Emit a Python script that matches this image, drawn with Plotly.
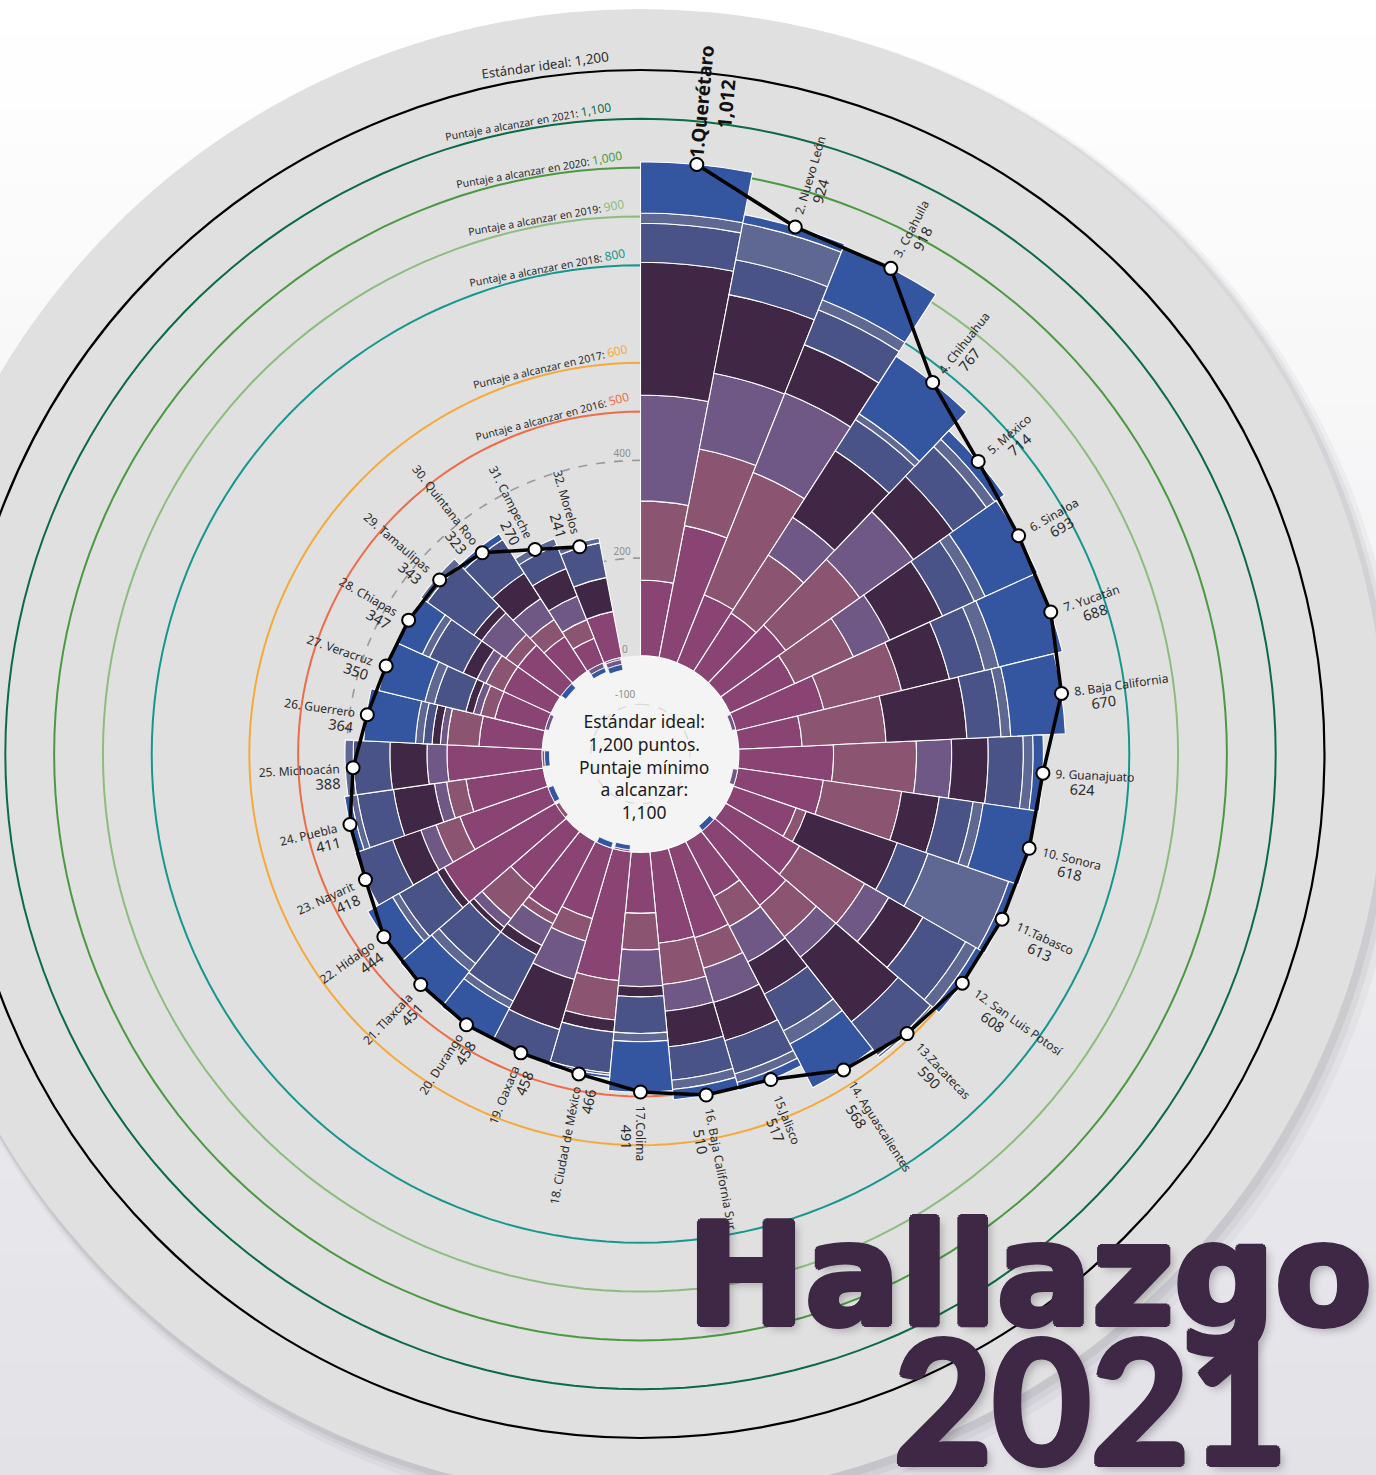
import math
import plotly.graph_objects as go

# ---------------- geometry of the page ----------------
W, H = 1376, 1475
CX, CY = 640.5, 754.0          # centre of the radial chart (px)
K = 0.488                      # px per point on the radial scale
V0 = 201.6                     # value offset: radius 0 sits at value -V0
R_POLAR = 640.0                # radius of the polar subplot (px)
V_MAX = R_POLAR / K - V0
DISK_R = 745.0

# ---------------- data ----------------
states = ["1.Querétaro", "2. Nuevo León", "3. Coahuila", "4. Chihuahua", "5. México",
          "6. Sinaloa", "7. Yucatán", "8. Baja California", "9. Guanajuato", "10. Sonora",
          "11.Tabasco", "12. San Luis Potosí", "13.Zacatecas", "14. Aguascalientes",
          "15.Jalisco", "16. Baja California Sur", "17.Colima", "18. Ciudad de México",
          "19. Oaxaca", "20. Durango", "21. Tlaxcala", "22. Hidalgo", "23. Nayarit",
          "24. Puebla", "25. Michoacán", "26. Guerrero", "27. Veracruz", "28. Chiapas",
          "29. Tamaulipas", "30. Quintana Roo", "31. Campeche", "32. Morelos"]
totals = [1012, 924, 918, 767, 714, 693, 688, 670, 624, 618, 613, 608, 590, 568, 517, 510,
          491, 466, 458, 458, 451, 444, 418, 411, 388, 364, 350, 347, 343, 323, 270, 241]
total_labels = ["1,012", "924", "918", "767", "714", "693", "688", "670", "624", "618", "613",
                "608", "590", "568", "517", "510", "491", "466", "458", "458", "451", "444",
                "418", "411", "388", "364", "350", "347", "343", "323", "270", "241"]

seg_magenta = [155, 275, 150, 142, 164, 146, 185, 130, 194, 177, 136, 175, 193, 127, 191, 188,
               125, 265, 150, 170, 150, 263, 190, 160, 195, 130, 106, 107, 107, 85, 54, 96]
seg_rose = [162, 160, 270, 141, 186, 132, 164, 172, 170, 162, 22, 154, 82, 69, 65, 85,
            75, 81, 48, 20, 78, 0, 52, 40, 0, 65, 30, 40, 30, 41, 41, 0]
seg_purple = [217, 158, 175, 92, 135, 82, 0, 0, 72, 0, 0, 57, 53, 82, 73, 55,
              75, 0, 82, 50, 22, 0, 33, 25, 41, 14, 15, 20, 61, 51, 52, 0]
seg_dark = [272, 164, 107, 162, 100, 119, 101, 166, 75, 78, 197, 81, 169, 74, 82, 73,
            21, 25, 107, 22, 12, 17, 61, 85, 76, 17, 16, 31, 20, 62, 61, 71]
seg_navy = [80, 73, 77, 76, 84, 72, 74, 70, 72, 70, 67, 101, 88, 85, 71, 69,
            75, 84, 71, 106, 83, 90, 82, 75, 75, 18, 66, 76, 117, 82, 51, 72]
seg_slate = [21, 76, 22, 14, 21, 24, 30, 20, 20, 21, 175, 24, 5, 30, 18, 19,
             17, 5, 0, 16, 20, 15, 0, 13, 17, 16, 20, 16, 16, 0, 15, 10]
seg_blue = [105, 18, 117, 140, 24, 118, 134, 112, 21, 110, 16, 16, 0, 101, 17, 21,
            103, 6, 0, 74, 86, 59, 0, 13, 0, 106, 97, 57, 0, 14, 0, 0]

neg_rose = [0, 0, 0, 0, 0, 0, 0, 0, 0, 0, 0, 0, 0, 0, 0, 0,
            0, 4, 0, 0, 0, 8, 0, 0, 5, 0, 0, 0, 0, 0, 0, 4]
neg_purple = [0, 0, 0, 0, 0, 0, 8, 0, 0, 10, 0, 0, 0, 0, 0, 0,
              0, 0, 0, 0, 0, 0, 0, 0, 0, 0, 8, 0, 0, 0, 10, 10]
neg_blue = [0, 0, 0, 0, 0, 0, 0, 0, 0, 0, 0, 0, 12, 0, 0, 0,
            0, 10, 12, 0, 0, 0, 12, 0, 10, 0, 0, 0, 12, 0, 10, 12]

ring_values = [1100, 1000, 900, 800, 600, 500]
ring_years = ["2021", "2020", "2019", "2018", "2017", "2016"]
ring_texts = ["1,100", "1,000", "900", "800", "600", "500"]
ring_colors = ["#0b6b45", "#4b9a42", "#8cbd7e", "#16978d", "#f5a93b", "#ee6c47"]
ring_end_angles = [-2.6, -1.7, -1.7, -1.7, -1.8, -1.8]
ideal_value = 1200
grid_values = [400, 200]
grid_inner = -100
grid_label_values = [400, 200, 0, -100]
grid_label_text = ["400", "200", "0", "-100"]

SEG_COLORS = ["#8a4474", "#8b5470", "#6f5886", "#3f2745", "#4a5387", "#5e6893", "#3455a0"]
TXT = "#2b2b2b"
FONT = "Noto Sans"
TITLE_C = "#3e2846"

N_SLOTS = 33
STEP = 360.0 / N_SLOTS
thetas = [(i + 0.5) * STEP for i in range(len(states))]


def px(v):
    return K * (v + V0)


def to_xy(theta_deg, r_px):
    t = math.radians(theta_deg)
    return CX + r_px * math.sin(t), CY - r_px * math.cos(t)


def paper(X, Y):
    return X / W, 1 - Y / H


def text_w(s, size, bold=False):
    w = 0.0
    for ch in s:
        if ch.isdigit():
            e = 0.572
        elif ch in " \u00a0":
            e = 0.26
        elif ch in ".,:;":
            e = 0.27
        elif ch in "iljíI":
            e = 0.26
        elif ch in "ftr":
            e = 0.37
        elif ch in "mM":
            e = 0.88
        elif ch in "wW":
            e = 0.78
        elif ch.isupper():
            e = 0.66
        else:
            e = 0.56
        w += e * size
    return w * (1.07 if bold else 1.0)


fig = go.Figure()

# ---------------- bottom polar: reference rings and centre ----------------
circ_theta = [i for i in range(0, 361, 2)]
fig.add_trace(go.Scatterpolar(r=[0] * len(circ_theta), theta=circ_theta, mode="lines",
                              fill="toself", fillcolor="#f4f4f4", line=dict(width=0, color="#f4f4f4"),
                              subplot="polar", hoverinfo="skip", showlegend=False))
fig.add_trace(go.Scatterpolar(r=[grid_inner] * len(circ_theta), theta=circ_theta, mode="lines",
                              line=dict(color="#dadada", width=1.3, dash="dash"),
                              subplot="polar", hoverinfo="skip", showlegend=False))
for gv in grid_values:
    fig.add_trace(go.Scatterpolar(r=[gv] * len(circ_theta), theta=circ_theta, mode="lines",
                                  line=dict(color="#999999", width=1.6, dash="dash"),
                                  subplot="polar", hoverinfo="skip", showlegend=False))
for rv, col in zip(ring_values, ring_colors):
    fig.add_trace(go.Scatterpolar(r=[rv] * len(circ_theta), theta=circ_theta, mode="lines",
                                  line=dict(color=col, width=2),
                                  subplot="polar", hoverinfo="skip", showlegend=False))


def add_bars(values, bases, color, width_frac, line_w):
    idx = [i for i, v in enumerate(values) if v > 0]
    if not idx:
        return
    fig.add_trace(go.Barpolar(
        r=[values[i] for i in idx], theta=[thetas[i] for i in idx],
        base=[bases[i] for i in idx], width=[STEP * width_frac] * len(idx),
        marker=dict(color=color, line=dict(color="white", width=line_w)),
        subplot="polar2", hoverinfo="skip", showlegend=False))


# ---------------- top polar: stacked bars, line and dots ----------------
segments = [seg_magenta, seg_rose, seg_purple, seg_dark, seg_navy, seg_slate, seg_blue]
base = [0.0] * len(states)
for seg, col in zip(segments, SEG_COLORS):
    add_bars(seg, base, col, 1.0, 1.1)
    base = [b + v for b, v in zip(base, seg)]

nbase = [0.0] * len(states)
for seg, col in zip([neg_rose, neg_purple, neg_blue], [SEG_COLORS[1], SEG_COLORS[2], SEG_COLORS[6]]):
    nb = [b - v for b, v in zip(nbase, seg)]
    add_bars(seg, nb, col, 0.85, 0.8)
    nbase = nb

fig.add_trace(go.Scatterpolar(r=totals, theta=thetas, mode="lines+markers",
                              line=dict(color="black", width=3.5),
                              marker=dict(size=13, color="white", line=dict(color="black", width=2)),
                              subplot="polar2", hoverinfo="skip", showlegend=False))

# grid value labels in the gap
gl_r, gl_t = [], []
for gv in grid_label_values:
    rp = px(gv) + (11 if gv < 0 else 6)
    gl_r.append(rp / K - V0)
    gl_t.append(-(3.5 if gv >= 400 else 5.2 if gv >= 200 else 8.6 if gv >= 0 else 14.7))
fig.add_trace(go.Scatterpolar(r=gl_r, theta=gl_t, mode="text", text=grid_label_text,
                              textfont=dict(color="#8f8f8f", size=10, family=FONT),
                              subplot="polar2", hoverinfo="skip", showlegend=False))

# ---------------- shapes: background gradient, disk, 1200 ring ----------------
shapes = []
n_bands = 40
top_c = (255, 255, 255)
bot_c = (226, 226, 231)
for i in range(n_bands):
    t = i / (n_bands - 1)
    c = tuple(int(round(top_c[k] + (bot_c[k] - top_c[k]) * t)) for k in range(3))
    shapes.append(dict(type="rect", xref="paper", yref="paper", x0=0, x1=1,
                       y0=1 - (i + 1) / n_bands, y1=1 - i / n_bands + 0.001,
                       fillcolor="rgb(%d,%d,%d)" % c, line=dict(width=0), layer="below"))


def circle_shape(cx, cy, r, **kw):
    x0, y1 = paper(cx - r, cy - r)
    x1, y0 = paper(cx + r, cy + r)
    d = dict(type="circle", xref="paper", yref="paper", x0=x0, x1=x1, y0=y0, y1=y1, layer="below")
    d.update(kw)
    return d


for off, extra, op in [(10, 8, 0.05), (7, 5, 0.07), (4, 3, 0.09)]:
    shapes.append(circle_shape(CX + off, CY + off, DISK_R + extra,
                               fillcolor="rgba(80,80,90,%.2f)" % op, line=dict(width=0)))
shapes.append(circle_shape(CX, CY, DISK_R, fillcolor="#e0e0e0", line=dict(width=0)))
shapes.append(circle_shape(CX, CY, px(ideal_value), fillcolor="rgba(0,0,0,0)",
                           line=dict(color="black", width=2.2)))

# ---------------- annotations ----------------
ann = []

# ring labels
ring_specs = [(ideal_value, "Estándar ideal: ", "1,200", TXT, 13.0, 13.5, 12, -2.6)]
for rv, yr, rt, col, ea in zip(ring_values, ring_years, ring_texts, ring_colors, ring_end_angles):
    ring_specs.append((rv, "Puntaje a alcanzar en %s: " % yr, rt, col, 10.5, 12.0, 7, ea))
for rv, pre, vt, col, fs1, fs2, off, end_ang in ring_specs:
    L = text_w(pre, fs1) + text_w(vt, fs2)
    rr = px(rv) + off
    ang_c = end_ang - math.degrees((L / 2) / rr)
    X, Y = to_xy(ang_c, rr)
    x, y = paper(X, Y)
    ann.append(dict(x=x, y=y, xref="paper", yref="paper", showarrow=False,
                    text="%s<span style='color:%s;font-size:%.1fpx'>%s</span>" % (pre, col, fs2, vt),
                    font=dict(size=fs1, color=TXT, family=FONT), textangle=ang_c,
                    xanchor="center", yanchor="middle"))

# state labels
for i, (name, val, tot, th) in enumerate(zip(states, total_labels, totals, thetas)):
    t = math.radians(th)
    rdot = px(tot)
    ux, uy = math.sin(t), -math.cos(t)
    if i == 0:
        fs = 19
        L = text_w(name, fs, True)
        dx, dy = math.cos(t), math.sin(t)
        gap, shift = 8, 0.62 * fs
        X, Y = to_xy(th, rdot)
        X += ux * (gap + L / 2) + dx * shift
        Y += uy * (gap + L / 2) + dy * shift
        x, y = paper(X, Y)
        ann.append(dict(x=x, y=y, xref="paper", yref="paper", showarrow=False,
                        text="<b>%s<br>%s</b>" % (name, val),
                        font=dict(size=fs, color="#111111", family=FONT),
                        textangle=th - 90, xanchor="center", yanchor="middle", align="center"))
        continue
    right = th <= 180.5
    fs1, fs2 = 12.0, 14.5
    k = name.index(".") + 1
    if k < len(name) and name[k] == " ":
        k += 1
    prefix = name[:k]
    pw = text_w(prefix, fs1)
    if right:
        ang = th - 90
        dx, dy = math.cos(t), math.sin(t)
        nb = int(round(pw / (0.26 * fs2)))
        vtxt = "\u00a0" * nb + val
        L = max(text_w(name, fs1), text_w(val, fs2) + pw)
        align = "left"
    else:
        ang = th - 270
        dx, dy = -math.cos(t), -math.sin(t)
        vtxt = val
        L = max(text_w(name, fs1), text_w(val, fs2))
        align = "right"
    gap, shift = 14, 7.8
    X, Y = to_xy(th, rdot)
    X += ux * (gap + L / 2) + dx * shift
    Y += uy * (gap + L / 2) + dy * shift
    x, y = paper(X, Y)
    ann.append(dict(x=x, y=y, xref="paper", yref="paper", showarrow=False,
                    text="%s<br><span style='font-size:%.1fpx'>%s</span>" % (name, fs2, vtxt),
                    font=dict(size=fs1, color=TXT, family=FONT),
                    textangle=ang, xanchor="center", yanchor="middle", align=align))

# centre text
cx_, cy_ = paper(CX + 3, CY + 12)
ann.append(dict(x=cx_, y=cy_, xref="paper", yref="paper", showarrow=False,
                text="Estándar ideal:<br>1,200 puntos.<br>Puntaje mínimo<br>a alcanzar:<br>1,100",
                font=dict(size=17.5, color="#1c1c1c", family=FONT), align="center",
                xanchor="center", yanchor="middle"))

# title block (one text, two lines); text-shadow thickens the strokes
thick = ", ".join("%dpx %dpx 0 %s" % (a, b, TITLE_C) for a, b in
                  [(3, 0), (-3, 0), (0, 3), (0, -3), (2, 2), (-2, 2), (2, -2), (-2, -2)])
thick += ", 5px 5px 8px rgba(0,0,0,0.25)"
hx, hy = paper(685, 1346)
ann.append(dict(x=hx, y=hy, xref="paper", yref="paper", showarrow=False,
                text=("<span style='font-family:DejaVu Sans;font-size:141px'>Hallazgos</span><br>"
                      "<span style='font-size:170px'>" + "\u00a0" * 5 + "2021</span>"),
                font=dict(size=108, color=TITLE_C, family="Lato", weight="bold", shadow=thick),
                xanchor="left", yanchor="middle", align="left"))

# ---------------- layout ----------------
dom_x = [(CX - R_POLAR) / W, (CX + R_POLAR) / W]
dom_y = [1 - (CY + R_POLAR) / H, 1 - (CY - R_POLAR) / H]
polar_common = dict(
    domain=dict(x=dom_x, y=dom_y),
    bgcolor="rgba(0,0,0,0)",
    radialaxis=dict(range=[-V0, V_MAX], visible=False, showgrid=False, showline=False,
                    showticklabels=False, ticks=""),
    angularaxis=dict(rotation=90, direction="clockwise", visible=False, showgrid=False,
                     showline=False, showticklabels=False, ticks=""),
)
fig.update_layout(
    width=W, height=H,
    margin=dict(l=0, r=0, t=0, b=0, pad=0),
    paper_bgcolor="#f2f2f4",
    plot_bgcolor="rgba(0,0,0,0)",
    polar=polar_common,
    polar2=dict(polar_common, barmode="overlay"),
    shapes=shapes,
    annotations=ann,
    showlegend=False,
    font=dict(family=FONT),
)

fig.write_html("out.html", include_plotlyjs=True, config={"displayModeBar": False},
               post_script="document.body.style.margin='0';document.body.style.overflow='hidden';")
